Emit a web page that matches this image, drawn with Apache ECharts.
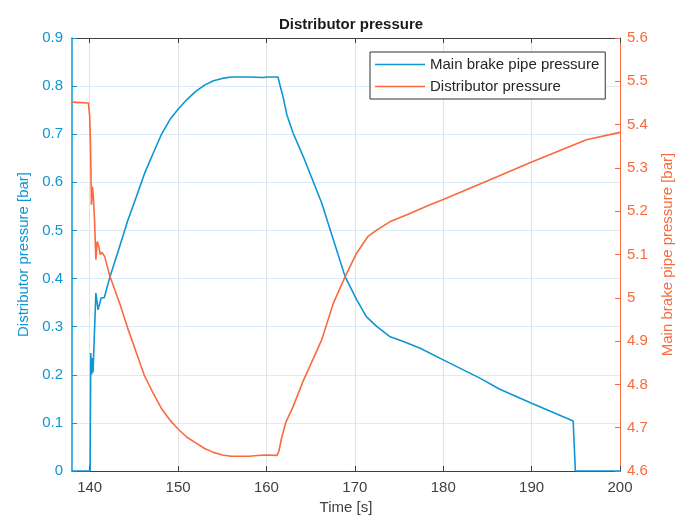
<!doctype html>
<html>
<head>
    <meta charset="utf-8">
    <title>Distributor pressure</title>
    <script src="https://cdn.jsdelivr.net/npm/echarts@6/dist/echarts.min.js"></script>
    <style>
        html, body { margin: 0; padding: 0; background: #fff; }
        #Chart { width: 675px; height: 520px; }
    </style>
</head>
<body>
    <div id="Chart"></div>
<script>
    // x tick positions (s)
    var timeTicks = [140, 150, 160, 170, 180, 190, 200];

    // main brake pipe pressure, drawn on the left axis
    var mbpTime = [138, 140.05, 140.12, 140.22, 140.3, 140.38, 140.7, 140.95, 141.3, 141.65, 142.3, 143.4,
        144.3, 145.3, 146.2, 147.2, 148.1, 149.1, 150, 151, 152, 153, 154, 155, 156, 158, 159.6, 159.8,
        160.1, 161.3, 161.6, 161.9, 162.3, 163.0, 164.2, 166.25, 167.56, 168.9, 170.2, 171.3, 172.5,
        174.0, 175.5, 177.4, 180, 184.2, 186.4, 190, 194.7, 194.9, 194.95, 200];
    var mbpValues = [0, 0, 0.245, 0.20, 0.235, 0.205, 0.37, 0.335, 0.36, 0.36, 0.404, 0.467,
        0.52, 0.571, 0.618, 0.661, 0.699, 0.731, 0.752, 0.772, 0.789, 0.802, 0.811, 0.816, 0.819, 0.819, 0.818, 0.815,
        0.819, 0.819, 0.797, 0.776, 0.741, 0.703, 0.652, 0.557, 0.481, 0.404, 0.356, 0.321, 0.300,
        0.279, 0.269, 0.255, 0.231, 0.1925, 0.17, 0.141, 0.104, 0.10, 0, 0];

    // distributor pressure, drawn on the right axis
    var distTime = [138, 139.85, 140.0, 140.1, 140.2, 140.3, 140.4, 140.55, 140.7, 140.85, 141.0, 141.2,
        141.4, 141.7, 142.3, 143.4, 144.3, 145.3, 146.2, 147.2, 148.1, 149.1, 150, 151, 152, 153, 154,
        155, 156, 158, 159.8, 161.2, 161.4, 161.7, 162.2, 163.0, 164.2, 166.25, 167.56, 168.9, 170.2,
        171.5, 172.5, 174.0, 175.9, 178.5, 180, 184.9, 189.8, 196.2, 200];
    var distValues = [5.452, 5.450, 5.42, 5.35, 5.215, 5.257, 5.24, 5.18, 5.088, 5.13, 5.122, 5.10,
        5.105, 5.095, 5.049, 4.987, 4.93, 4.872, 4.82, 4.779, 4.745, 4.717, 4.697, 4.678, 4.665, 4.652, 4.643,
        4.637, 4.634, 4.634, 4.637, 4.636, 4.645, 4.675, 4.713, 4.748, 4.81, 4.903, 4.987, 5.049, 5.103,
        5.142, 5.157, 5.176, 5.192, 5.215, 5.227, 5.269, 5.312, 5.365, 5.382];

    var blue = '#0d96d6';
    var orange = '#fa6a3c';
    var dark = '#404040';
    var font = 'Liberation Sans, Arial, sans-serif';

    function pairs(xs, ys) {
        var out = [];
        for (var i = 0; i < xs.length; i++) {
            out.push([xs[i], ys[i]]);
        }
        return out;
    }

    var myChart = echarts.init(document.getElementById('Chart'));
    var option = {
        backgroundColor: '#fff',
        animation: false,
        textStyle: { fontFamily: font },
        title: {
            text: 'Distributor pressure',
            left: 346,
            textAlign: 'center',
            top: 12,
            textStyle: { fontFamily: font, fontSize: 15, fontWeight: 'bold', color: '#1a1a1a' }
        },
        legend: {
            orient: 'vertical',
            left: 370,
            top: 52,
            icon: 'path://M0,0L50,0L50,1.6L0,1.6Z',
            itemWidth: 50,
            itemHeight: 14,
            itemGap: 7,
            padding: [5, 6, 5, 5],
            borderColor: '#333',
            borderWidth: 1,
            backgroundColor: '#fff',
            textStyle: { fontFamily: font, fontSize: 15, color: '#262626' },
            data: ['Main brake pipe pressure', 'Distributor pressure']
        },
        grid: { left: 72, right: 55, top: 38, bottom: 49, outerBoundsMode: 'none' },
        xAxis: [{
            type: 'value',
            min: 138,
            max: 200,
            name: 'Time [s]',
            nameLocation: 'middle',
            nameGap: 29,
            nameTextStyle: { fontFamily: font, fontSize: 15, color: dark },
            axisLine: { show: true, onZero: false, lineStyle: { color: dark, width: 1 } },
            axisTick: { show: true, inside: true, length: 5, customValues: timeTicks, lineStyle: { color: dark } },
            axisLabel: { customValues: timeTicks, margin: 9, fontFamily: font, fontSize: 15, color: dark },
            splitLine: { show: true, lineStyle: { color: '#e3e3e3', width: 1 } }
        }, {
            type: 'value',
            position: 'top',
            min: 138,
            max: 200,
            axisLine: { show: true, onZero: false, lineStyle: { color: dark, width: 1 } },
            axisTick: { show: true, inside: true, length: 5, customValues: timeTicks, lineStyle: { color: dark } },
            axisLabel: { show: false },
            splitLine: { show: false }
        }],
        yAxis: [{
            type: 'value',
            position: 'left',
            min: 0,
            max: 0.9,
            interval: 0.1,
            name: 'Distributor pressure [bar]',
            nameLocation: 'middle',
            nameGap: 41,
            nameTextStyle: { fontFamily: font, fontSize: 15, color: blue },
            axisLine: { show: true, lineStyle: { color: blue, width: 1.5 } },
            axisTick: { show: true, inside: true, length: 5, lineStyle: { color: blue } },
            axisLabel: { margin: 9, fontFamily: font, fontSize: 15, color: blue },
            splitLine: { show: true, lineStyle: { color: '#dcebf7', width: 1 } }
        }, {
            type: 'value',
            position: 'right',
            min: 4.6,
            max: 5.6,
            interval: 0.1,
            name: 'Main brake pipe pressure [bar]',
            nameLocation: 'middle',
            nameGap: 40,
            nameRotate: 90,
            nameTextStyle: { fontFamily: font, fontSize: 15, color: orange },
            axisLine: { show: true, lineStyle: { color: orange, width: 1 } },
            axisTick: { show: true, inside: true, length: 5, lineStyle: { color: orange } },
            axisLabel: { margin: 7, fontFamily: font, fontSize: 15, color: orange },
            splitLine: { show: false }
        }],
        series: [{
            name: 'Main brake pipe pressure',
            type: 'line',
            xAxisIndex: 0,
            yAxisIndex: 0,
            symbol: 'none',
            smooth: false,
            lineStyle: { color: blue, width: 1.6 },
            itemStyle: { color: blue },
            data: pairs(mbpTime, mbpValues)
        }, {
            name: 'Distributor pressure',
            type: 'line',
            xAxisIndex: 0,
            yAxisIndex: 1,
            symbol: 'none',
            smooth: false,
            lineStyle: { color: orange, width: 1.6 },
            itemStyle: { color: orange },
            data: pairs(distTime, distValues)
        }]
    };
    myChart.setOption(option);
</script>
</body>
</html>
